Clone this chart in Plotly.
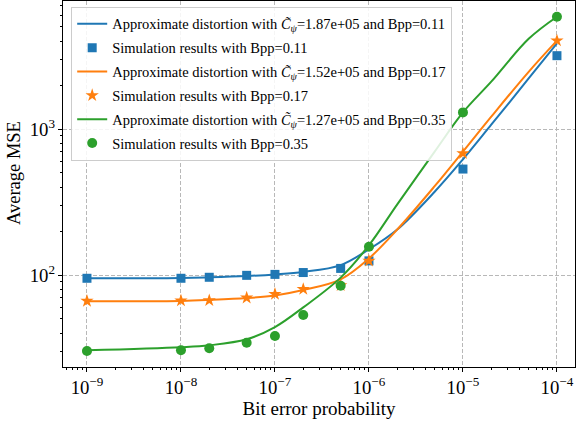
import plotly.graph_objects as go

# Bit error probabilities
p_sim = [1e-9, 1e-8, 2e-8, 5e-8, 1e-7, 2e-7, 5e-7, 1e-6, 1e-5, 1e-4]
p_curve = [1e-9, 1e-8, 2e-8, 5e-8, 1e-7, 2e-7, 5e-7, 1e-6, 2e-6, 5e-6, 1e-5, 2e-5, 5e-5, 1e-4]

# Approximate distortion curves
approx_011 = [95, 95.5, 96.5, 98.5, 101, 105, 117, 150, 205, 372, 620, 1070, 2220, 3865]
approx_017 = [66, 66.5, 67.5, 69.5, 72.5, 79, 93.5, 130, 205, 406, 700, 1215, 2465, 4030]
approx_035 = [30.5, 32, 33, 36.3, 44, 60, 96, 160, 305, 700, 1300, 2110, 4150, 5880]

# Simulation results
sim_011 = [95, 95, 96.5, 99.5, 101, 104, 111, 125, 532, 3180]
sim_017 = [66.4, 66.7, 67, 69.9, 74, 80, 85, 125, 681, 4030]
sim_035 = [30.2, 30.5, 31.5, 34.4, 38.2, 53.2, 84.5, 156, 1300, 5880]

C_vals = ["1.87e+05", "1.52e+05", "1.27e+05"]
bpps = ["0.11", "0.17", "0.35"]
colors = ["#1f77b4", "#ff7f0e", "#2ca02c"]
symbols = ["square", "star", "circle"]
sizes = [9, 10, 10]

curves = [approx_011, approx_017, approx_035]
sims = [sim_011, sim_017, sim_035]

fig = go.Figure()
for i in range(3):
    fig.add_trace(go.Scatter(
        x=p_curve, y=curves[i], mode="lines",
        line=dict(color=colors[i], width=2, shape="spline", smoothing=1.0),
        name=("Approximate distortion with <i>C\u0303</i><sub><i>\u03c8</i></sub>="
              + C_vals[i] + " and Bpp=" + bpps[i]),
        legendgroup="a" + str(i),
    ))
    fig.add_trace(go.Scatter(
        x=p_sim, y=sims[i], mode="markers",
        marker=dict(color=colors[i], symbol=symbols[i], size=sizes[i], line=dict(width=0)),
        name="Simulation results with Bpp=" + bpps[i],
        legendgroup="s" + str(i),
    ))

font_family = "Liberation Serif, Times New Roman, serif"
axis_common = dict(
    type="log",
    automargin=False,
    showline=True, linecolor="black", linewidth=1, mirror=True,
    ticks="outside", ticklen=4, tickcolor="black", tickwidth=1,
    showgrid=True, gridcolor="#b8b8b8", griddash="4px,2px", gridwidth=1,
    zeroline=False,
    exponentformat="power", dtick=1,
    tickfont=dict(family=font_family, size=15, color="black"),
    minor=dict(ticks="outside", ticklen=2, tickcolor="black", showgrid=False, dtick="D1"),
)

fig.update_layout(
    width=578, height=427,
    margin=dict(l=63, r=3, t=1, b=60),
    paper_bgcolor="white", plot_bgcolor="white",
    font=dict(family=font_family, color="black"),
    xaxis=dict(axis_common, range=[-9.255, -3.808],
               title=dict(text="Bit error probability", font=dict(size=19, family=font_family), standoff=4)),
    yaxis=dict(axis_common, range=[1.370, 3.877]),
    legend=dict(
        x=0.016, y=0.984, xanchor="left", yanchor="top",
        bgcolor="rgba(255,255,255,0.85)", bordercolor="#cccccc", borderwidth=1,
        font=dict(family=font_family, size=14.5, color="black"),
        tracegroupgap=2,
    ),
    annotations=[dict(
        text="Average MSE", textangle=-90, showarrow=False,
        xref="paper", yref="paper", x=-0.0957, y=0.53,
        xanchor="center", yanchor="middle",
        font=dict(size=18.5, family=font_family, color="black"),
    )],
    showlegend=True,
)

fig.write_html("out.html", post_script="document.body.style.margin='0';",
               config={"displayModeBar": False})
